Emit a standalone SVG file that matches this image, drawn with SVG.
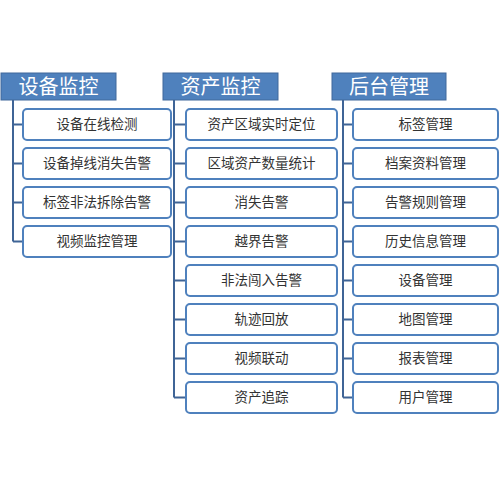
<svg xmlns="http://www.w3.org/2000/svg" width="500" height="483" viewBox="0 0 500 483">
<style>
.hd{fill:#4f81bd;stroke:#41699b;stroke-width:1}
.ht{fill:#ffffff;font-family:"Liberation Sans","Noto Sans CJK SC",sans-serif;font-size:20px;text-anchor:middle;dominant-baseline:central}
.bx{fill:#ffffff;stroke:#4f81bd;stroke-width:2}
.bt{fill:#333333;font-family:"Liberation Sans","Noto Sans CJK SC",sans-serif;font-size:13.5px;text-anchor:middle;dominant-baseline:central}
.ln{fill:none;stroke:#3f6496;stroke-width:2}
</style>
<rect width="500" height="483" fill="#ffffff"/>
<g id="connectors">
<path class="ln" d="M13,100 V241.5 M13,124.5 H23 M13,163.5 H23 M13,202.5 H23 M13,241.5 H23"/>
<path class="ln" d="M174,100 V397.5 M174,124.5 H186 M174,163.5 H186 M174,202.5 H186 M174,241.5 H186 M174,280.5 H186 M174,319.5 H186 M174,358.5 H186 M174,397.5 H186"/>
<path class="ln" d="M343,100 V397.5 M343,124.5 H353 M343,163.5 H353 M343,202.5 H353 M343,241.5 H353 M343,280.5 H353 M343,319.5 H353 M343,358.5 H353 M343,397.5 H353"/>
</g>
<g id="h1"><rect class="hd" x="1" y="73" width="115" height="27"/><text class="ht" x="58.5" y="86.5">设备监控</text></g>
<g id="h2"><rect class="hd" x="163" y="73" width="115" height="27"/><text class="ht" x="220.5" y="86.5">资产监控</text></g>
<g id="h3"><rect class="hd" x="332" y="73" width="114" height="27"/><text class="ht" x="389" y="86.5">后台管理</text></g>
<g id="a1"><rect class="bx" x="23" y="109" width="148" height="31" rx="4"/><text class="bt" x="97" y="124.5">设备在线检测</text></g>
<g id="a2"><rect class="bx" x="23" y="148" width="148" height="31" rx="4"/><text class="bt" x="97" y="163.5">设备掉线消失告警</text></g>
<g id="a3"><rect class="bx" x="23" y="187" width="148" height="31" rx="4"/><text class="bt" x="97" y="202.5">标签非法拆除告警</text></g>
<g id="a4"><rect class="bx" x="23" y="226" width="148" height="31" rx="4"/><text class="bt" x="97" y="241.5">视频监控管理</text></g>
<g id="b1"><rect class="bx" x="186" y="109" width="151" height="31" rx="4"/><text class="bt" x="261.5" y="124.5">资产区域实时定位</text></g>
<g id="b2"><rect class="bx" x="186" y="148" width="151" height="31" rx="4"/><text class="bt" x="261.5" y="163.5">区域资产数量统计</text></g>
<g id="b3"><rect class="bx" x="186" y="187" width="151" height="31" rx="4"/><text class="bt" x="261.5" y="202.5">消失告警</text></g>
<g id="b4"><rect class="bx" x="186" y="226" width="151" height="31" rx="4"/><text class="bt" x="261.5" y="241.5">越界告警</text></g>
<g id="b5"><rect class="bx" x="186" y="265" width="151" height="31" rx="4"/><text class="bt" x="261.5" y="280.5">非法闯入告警</text></g>
<g id="b6"><rect class="bx" x="186" y="304" width="151" height="31" rx="4"/><text class="bt" x="261.5" y="319.5">轨迹回放</text></g>
<g id="b7"><rect class="bx" x="186" y="343" width="151" height="31" rx="4"/><text class="bt" x="261.5" y="358.5">视频联动</text></g>
<g id="b8"><rect class="bx" x="186" y="382" width="151" height="31" rx="4"/><text class="bt" x="261.5" y="397.5">资产追踪</text></g>
<g id="c1"><rect class="bx" x="353" y="109" width="145" height="31" rx="4"/><text class="bt" x="425.5" y="124.5">标签管理</text></g>
<g id="c2"><rect class="bx" x="353" y="148" width="145" height="31" rx="4"/><text class="bt" x="425.5" y="163.5">档案资料管理</text></g>
<g id="c3"><rect class="bx" x="353" y="187" width="145" height="31" rx="4"/><text class="bt" x="425.5" y="202.5">告警规则管理</text></g>
<g id="c4"><rect class="bx" x="353" y="226" width="145" height="31" rx="4"/><text class="bt" x="425.5" y="241.5">历史信息管理</text></g>
<g id="c5"><rect class="bx" x="353" y="265" width="145" height="31" rx="4"/><text class="bt" x="425.5" y="280.5">设备管理</text></g>
<g id="c6"><rect class="bx" x="353" y="304" width="145" height="31" rx="4"/><text class="bt" x="425.5" y="319.5">地图管理</text></g>
<g id="c7"><rect class="bx" x="353" y="343" width="145" height="31" rx="4"/><text class="bt" x="425.5" y="358.5">报表管理</text></g>
<g id="c8"><rect class="bx" x="353" y="382" width="145" height="31" rx="4"/><text class="bt" x="425.5" y="397.5">用户管理</text></g>
</svg>
